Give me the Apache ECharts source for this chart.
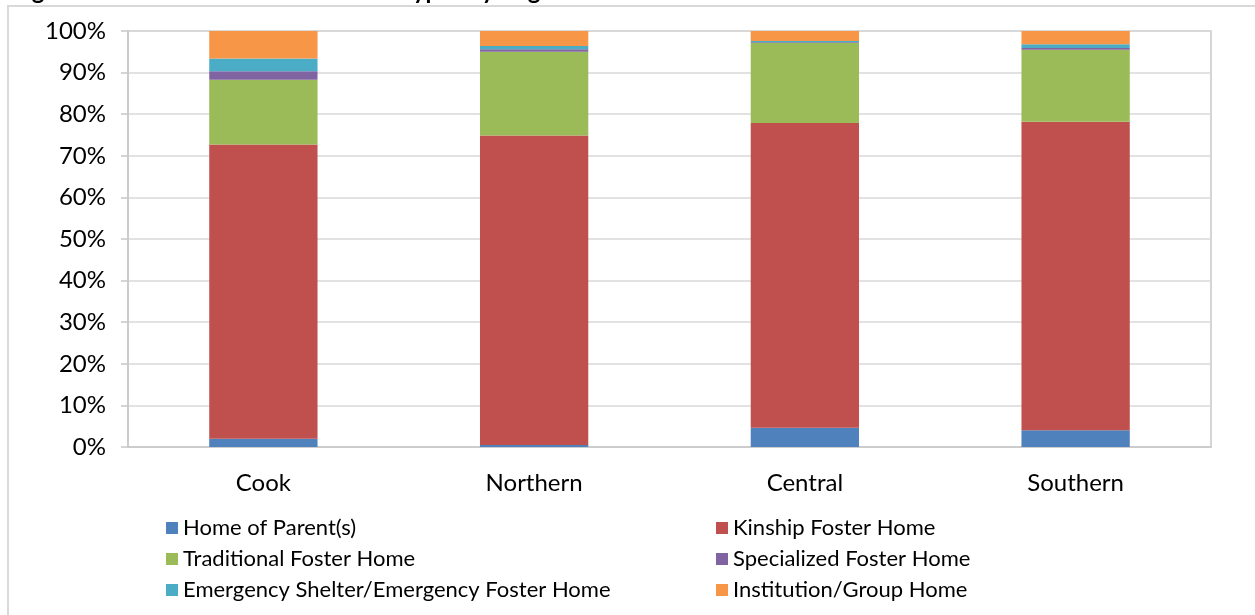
<!DOCTYPE html>
<html>
<head>
<meta charset="utf-8">
<script src="https://cdn.jsdelivr.net/npm/echarts@6/dist/echarts.min.js"></script>
<style>
  html, body { margin: 0; padding: 0; background: #fff; }
  #chart { width: 1255px; height: 615px; }
</style>
</head>
<body>
<div id="chart"></div>
<script>
// Regions along the x axis
const regions = ['Cook', 'Northern', 'Central', 'Southern'];

// Share of placements (%) per region, one array per placement type
const homeOfParents   = [2.0, 0.5, 4.6, 4.0];
const kinshipFoster   = [70.7, 74.4, 73.3, 74.2];
const traditional     = [15.6, 20.1, 19.2, 17.3];
const specialized     = [2.0, 0.6, 0.2, 0.4];
const emergency       = [3.1, 0.8, 0.3, 0.9];
const institution     = [6.6, 3.6, 2.4, 3.2];

const seriesNames = [
  'Home of Parent(s)',
  'Kinship Foster Home',
  'Traditional Foster Home',
  'Specialized Foster Home',
  'Emergency Shelter/Emergency Foster Home',
  'Institution/Group Home'
];
const seriesValues = [homeOfParents, kinshipFoster, traditional, specialized, emergency, institution];
const seriesColors = ['#4F81BD', '#C0504D', '#9BBB59', '#8064A2', '#4BACC6', '#F79646'];

// Y axis ticks
const yMin = 0, yMax = 100, yStep = 10;

const FONT = 'Lato';

const chart = echarts.init(document.getElementById('chart'), null, { renderer: 'canvas' });

const legendText = { fontFamily: FONT, fontSize: 22, color: '#000', lineHeight: 22 };

chart.setOption({
  animation: false,
  backgroundColor: '#fff',
  textStyle: { fontFamily: FONT },
  graphic: [
    {
      type: 'rect',
      shape: { x: 8, y: 6, width: 1400, height: 800 },
      style: { fill: 'none', stroke: '#d9d9d9', lineWidth: 2 },
      silent: true,
      z: -1
    },
    {
      type: 'text',
      x: 12,
      y: 3,
      style: {
        text: 'Figure 4: Substitute Care Placement Types by Region',
        font: 'bold 24px ' + FONT,
        fill: '#000',
        verticalAlign: 'bottom'
      },
      silent: true
    }
  ],
  grid: {
    left: 128, right: 44, top: 31, bottom: 168,
    show: true, borderColor: '#c8c8c8', borderWidth: 1.5, backgroundColor: 'transparent'
  },
  legend: [
    {
      orient: 'vertical', left: 161, top: 512,
      itemWidth: 12, itemHeight: 12, itemGap: 9,
      icon: 'rect',
      textStyle: legendText,
      data: [seriesNames[0], seriesNames[2], seriesNames[4]]
    },
    {
      orient: 'vertical', left: 711, top: 512,
      itemWidth: 12, itemHeight: 12, itemGap: 9,
      icon: 'rect',
      textStyle: legendText,
      data: [seriesNames[1], seriesNames[3], seriesNames[5]]
    }
  ],
  xAxis: {
    type: 'category',
    data: regions,
    axisLine: { show: true, lineStyle: { color: '#c8c8c8', width: 1.5 } },
    axisTick: { show: false },
    axisLabel: { fontFamily: FONT, fontSize: 24, color: '#000', margin: 24 }
  },
  yAxis: {
    type: 'value',
    min: yMin, max: yMax, interval: yStep,
    axisLine: { show: true, lineStyle: { color: '#c8c8c8', width: 1.5 } },
    axisTick: { show: true, length: 7, lineStyle: { color: '#c8c8c8', width: 1.5 } },
    axisLabel: { fontFamily: FONT, fontSize: 24, color: '#000', margin: 22, formatter: '{value}%' },
    splitLine: { show: true, lineStyle: { color: '#d9d9d9', width: 1.5 } }
  },
  series: seriesNames.map((name, i) => ({
    name: name,
    type: 'bar',
    stack: 'total',
    barWidth: '40%',
    data: seriesValues[i],
    itemStyle: { color: seriesColors[i] }
  }))
});
</script>
</body>
</html>
